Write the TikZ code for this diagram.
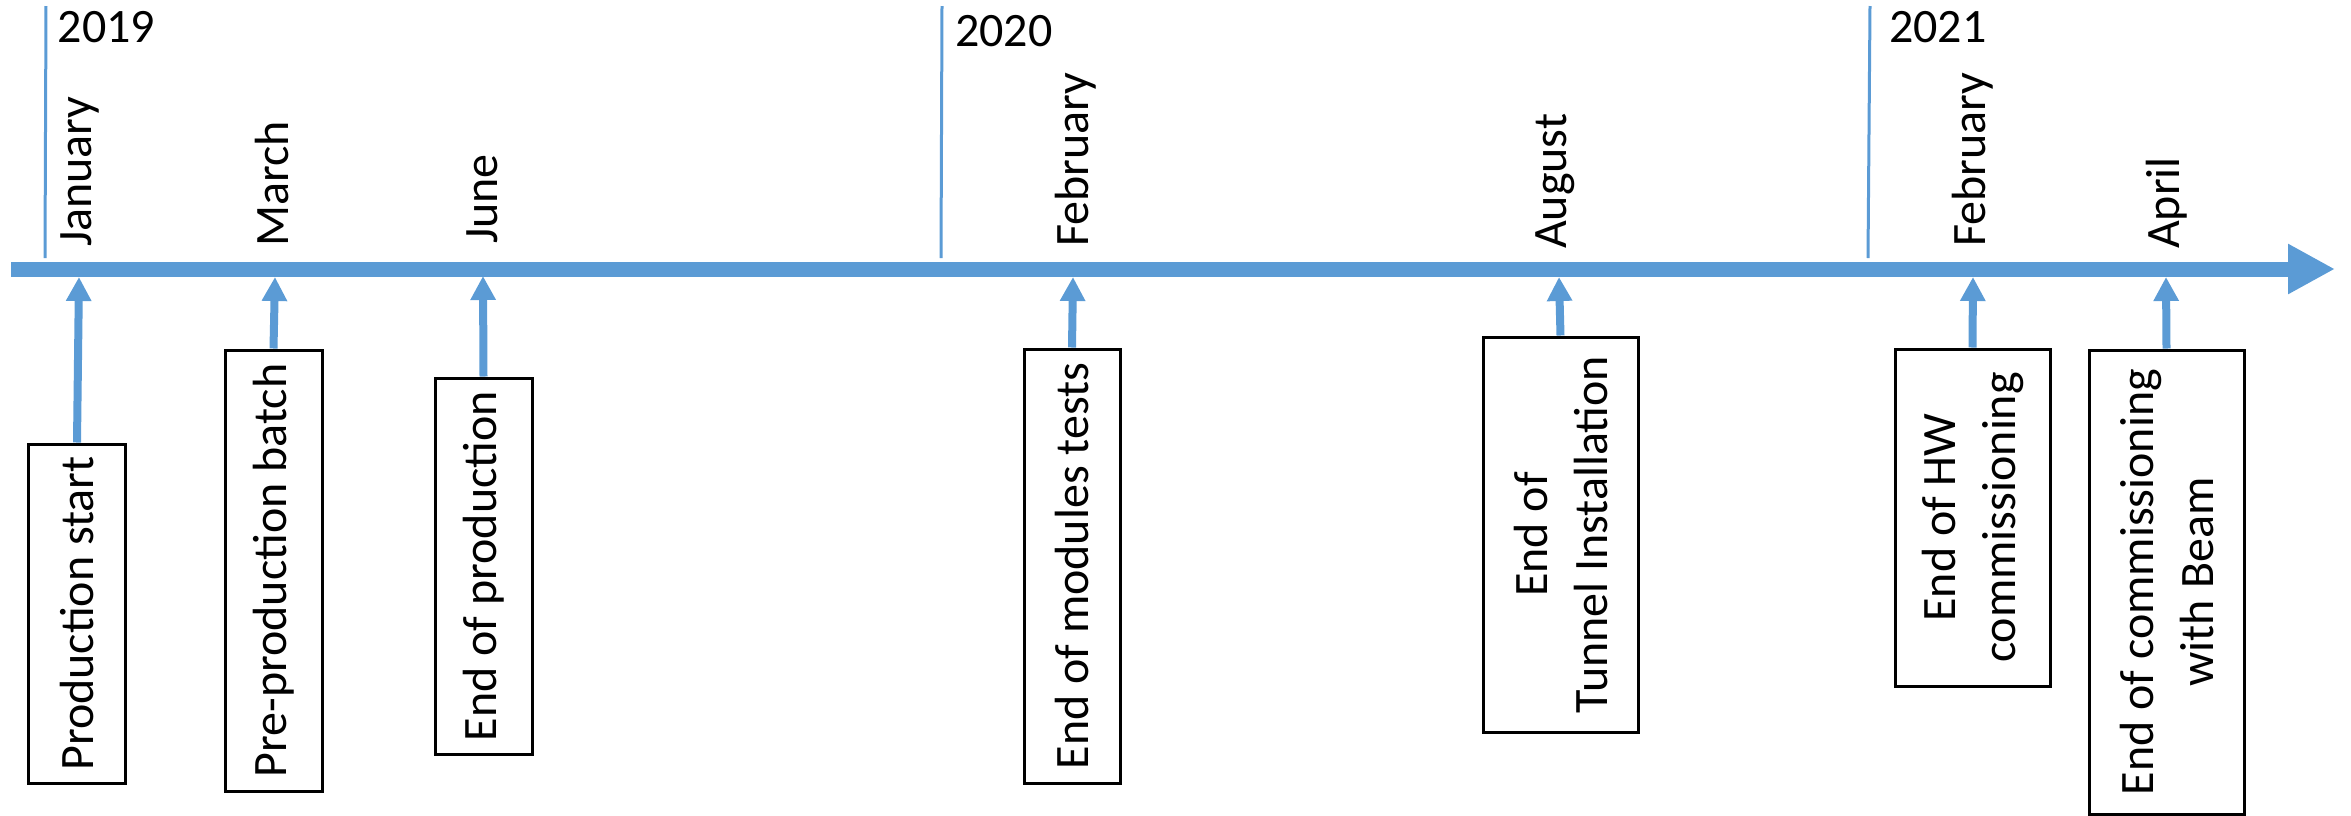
\documentclass[tikz,border=0pt]{standalone}
\usepackage{fontspec}
\setmainfont{Carlito}
\usetikzlibrary{arrows.meta}
\definecolor{tlblue}{HTML}{5B9BD5}
\begin{document}
\begin{tikzpicture}[x=1pt,y=-1pt,
  every node/.style={font=\fontsize{48}{60}\selectfont},
  yearline/.style={draw=tlblue, line width=3pt},
  yearlabel/.style={anchor=base west, inner sep=0pt},
  monthlabel/.style={rotate=90, anchor=base west, inner sep=0pt},
  eventbox/.style={draw=black, line width=3pt, rotate=90, align=center, inner sep=0pt},
  eventarrow/.style={draw=tlblue, line width=8pt, -{Triangle[length=24pt,width=24pt]}},
  axisarrow/.style={draw=tlblue, line width=15pt, -{Triangle[length=47pt,width=47pt]}}]
\useasboundingbox (0,0) rectangle (2351,815);

% main axis
\coordinate (axL) at (11,269);
\coordinate (axR) at (2335,269);
\draw[axisarrow] (axL) -- (axR);

% year separators
\coordinate (y19t) at (46,6);   \coordinate (y19b) at (45,258);
\coordinate (y20t) at (942,6);  \coordinate (y20b) at (941,258);
\coordinate (y21t) at (1870,6); \coordinate (y21b) at (1868,258);
\draw[yearline] (y19t) -- (y19b);
\draw[yearline] (y20t) -- (y20b);
\draw[yearline] (y21t) -- (y21b);
\node[yearlabel] (l2019) at (57.5,42) {2019};
\node[yearlabel] (l2020) at (955,46) {2020};
\node[yearlabel] (l2021) at (1889,42) {2021};

% month labels
\node[monthlabel] (mJan) at (91,247) {January};
\node[monthlabel] (mMar) at (288,247) {March};
\node[monthlabel] (mJun) at (497,244) {June};
\node[monthlabel] (mFeb) at (1088,247) {February};
\node[monthlabel] (mAug) at (1566,249) {August};
\node[monthlabel] (mFebb) at (1985,247) {February};
\node[monthlabel] (mApr) at (2179,249) {April};

% tips on the axis
\coordinate (t1) at (79,277);
\coordinate (t2) at (275,277);
\coordinate (t3) at (483,276);
\coordinate (t4) at (1073,277);
\coordinate (t5) at (1559,277);
\coordinate (t6) at (1973,277);
\coordinate (t7) at (2166,277);

% event boxes
\node[eventbox, minimum width=339pt, minimum height=97pt] (b1) at (77,613.5) {Production start};
\node[eventbox, minimum width=441pt, minimum height=97pt] (b2) at (273.5,570.5) {Pre-production batch};
\node[eventbox, minimum width=376pt, minimum height=97pt] (b3) at (483.5,566) {End of production};
\node[eventbox, minimum width=434pt, minimum height=96pt] (b4) at (1072,566) {End of modules tests};
\node[eventbox, minimum width=395pt, minimum height=155pt] (b5) at (1560.5,534.5) {End of\\Tunnel Installation};
\node[eventbox, minimum width=337pt, minimum height=155pt] (b6) at (1972.5,517.5) {End of HW\\commissioning};
\node[eventbox, minimum width=464pt, minimum height=155pt] (b7) at (2166.5,582) {End of commissioning\\with Beam};

% arrows
\draw[eventarrow] (b1.east) -- (t1);
\draw[eventarrow] (b2.east) -- (t2);
\draw[eventarrow] (b3.east) -- (t3);
\draw[eventarrow] (b4.east) -- (t4);
\draw[eventarrow] (b5.east) -- (t5);
\draw[eventarrow] (b6.east) -- (t6);
\draw[eventarrow] (b7.east) -- (t7);
\end{tikzpicture}
\end{document}
